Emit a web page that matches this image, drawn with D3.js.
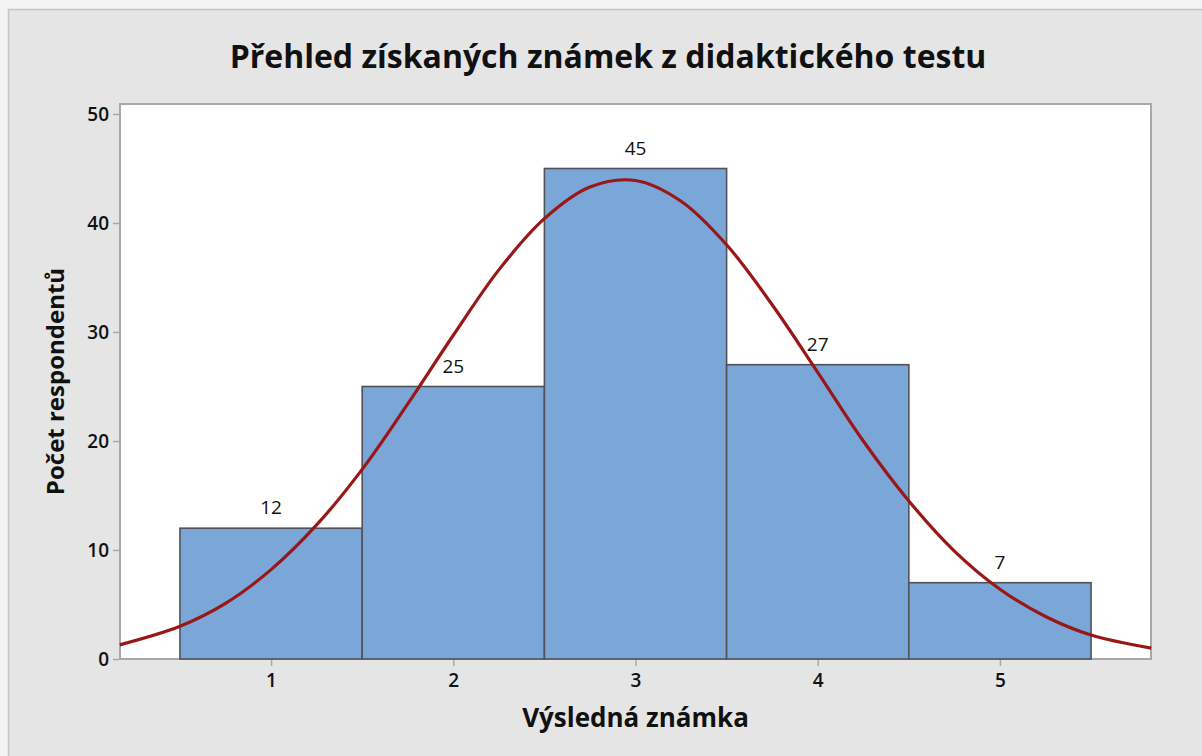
<!DOCTYPE html>
<html>
<head>
<meta charset="utf-8">
<script src="https://cdn.jsdelivr.net/npm/d3@7"></script>
<style>
  body { margin: 0; background: #f4f4f4; }
  text { font-family: "Open Sans", "Noto Sans", sans-serif; fill: #111; }
</style>
</head>
<body>
<svg id="chart"></svg>
<script>
// data
const grades = [1, 2, 3, 4, 5];
const counts = [12, 25, 45, 27, 7];
const yTicks = [0, 10, 20, 30, 40, 50];
// fitted normal curve
const curveX = [0.17, 0.5, 0.75, 1, 1.25, 1.5, 1.75, 2, 2.25, 2.5, 2.75, 3, 3.25, 3.5, 3.75, 4, 4.25, 4.5, 4.75, 5, 5.25, 5.5, 5.83];
const curveY = [1.3, 3.0, 5.1, 8.2, 12.3, 17.4, 23.4, 29.7, 35.7, 40.4, 43.3, 43.9, 42.0, 38.0, 32.5, 26.3, 20.0, 14.5, 9.9, 6.4, 3.9, 2.2, 1.0];

const width = 1202, height = 756;
const svg = d3.select("#chart").attr("width", width).attr("height", height);

// frame
svg.append("rect")
  .attr("x", 8.5).attr("y", 9.5)
  .attr("width", width).attr("height", height)
  .attr("fill", "#e5e5e5")
  .attr("stroke", "#c4c4c4")
  .attr("stroke-width", 1.5);

const plot = { left: 120, right: 1151, top: 104, bottom: 659 };

const x = d3.scaleLinear().domain([0.171, 5.829]).range([plot.left, plot.right]);
const y = d3.scaleLinear().domain([0, 50]).range([plot.bottom, 114]);

svg.append("rect")
  .attr("x", plot.left).attr("y", plot.top)
  .attr("width", plot.right - plot.left).attr("height", plot.bottom - plot.top)
  .attr("fill", "#fff")
  .attr("stroke", "#a8a8a8")
  .attr("stroke-width", 2);

// title
svg.append("text")
  .attr("x", 608).attr("y", 68)
  .attr("text-anchor", "middle")
  .style("font-size", "32px")
  .style("font-weight", "700")
  .text("Přehled získaných známek z didaktického testu");

// axes
const yAxis = d3.axisLeft(y).tickValues(yTicks).tickSize(6).tickPadding(4);
const gy = svg.append("g").attr("transform", `translate(${plot.left - 1},0)`).call(yAxis);
const xAxis = d3.axisBottom(x).tickValues(grades).tickFormat(d3.format("d")).tickSize(6).tickPadding(8);
const gx = svg.append("g").attr("transform", `translate(0,${plot.bottom + 1})`).call(xAxis);
[gy, gx].forEach((g) => {
  g.select(".domain").remove();
  g.selectAll("line").attr("stroke", "#a8a8a8").attr("stroke-width", 1.5);
  g.selectAll("text")
    .style("font-size", "19px")
    .style("font-weight", "600")
    .style("font-family", '"Open Sans", sans-serif')
    .attr("fill", "#111");
});

// bars
svg.append("g")
  .selectAll("rect")
  .data(grades)
  .enter()
  .append("rect")
  .attr("x", (d) => x(d - 0.5))
  .attr("y", (d, i) => y(counts[i]))
  .attr("width", (d) => x(d + 0.5) - x(d - 0.5))
  .attr("height", (d, i) => y(0) - y(counts[i]))
  .attr("fill", "#7ba7d8")
  .attr("stroke", "#4f5358")
  .attr("stroke-width", 1.6);

// curve
const line = d3.line()
  .x((d, i) => x(curveX[i]))
  .y((d) => y(d))
  .curve(d3.curveCatmullRom);
svg.append("path")
  .datum(curveY)
  .attr("d", line)
  .attr("fill", "none")
  .attr("stroke", "#9a1717")
  .attr("stroke-width", 3.2);

// bar labels
svg.append("g")
  .selectAll("text")
  .data(grades)
  .enter()
  .append("text")
  .attr("x", (d) => x(d))
  .attr("y", (d, i) => y(counts[i]) - 14)
  .attr("text-anchor", "middle")
  .style("font-size", "19px")
  .text((d, i) => counts[i]);

// axis titles
svg.append("text")
  .attr("x", (plot.left + plot.right) / 2)
  .attr("y", 727)
  .attr("text-anchor", "middle")
  .style("font-size", "26px")
  .style("font-weight", "700")
  .text("Výsledná známka");

svg.append("text")
  .attr("transform", `translate(64,${(plot.top + plot.bottom) / 2}) rotate(-90)`)
  .attr("text-anchor", "middle")
  .style("font-size", "24px")
  .style("font-weight", "700")
  .text("Počet respondentů");
</script>
</body>
</html>
